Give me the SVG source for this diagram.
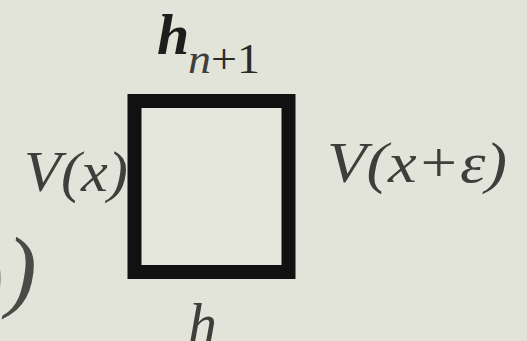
<svg xmlns="http://www.w3.org/2000/svg" width="527" height="341" viewBox="0 0 527 341">
<style>
.b{font-weight:bold}
</style>
<rect x="0" y="0" width="527" height="341" fill="#e3e4d9"/>
<g id="box">
<rect x="134.5" y="101" width="154" height="171" fill="#e6e7dc" stroke="#111" stroke-width="14"/>
</g>
<g font-family="Liberation Serif, DejaVu Serif, serif" font-style="italic" fill="#3e3e3a">
<g id="top-label">
<text class="b" x="157" y="54" font-size="58" fill="#1e1e1c">h</text>
<text x="188" y="73" font-size="42" textLength="72" lengthAdjust="spacingAndGlyphs">n<tspan font-style="normal" fill="#2a2a28">+1</tspan></text>
</g>
<g id="left-label">
<text x="24" y="191" font-size="58" textLength="104" lengthAdjust="spacingAndGlyphs">V(x)</text>
</g>
<g id="right-label">
<text x="327" y="182" font-size="58" textLength="180" lengthAdjust="spacingAndGlyphs">V(x+ε)</text>
</g>
<g id="left-parens">
<text x="-26" y="300" font-size="92" font-style="normal" fill="#7a7a74">)</text>
<text x="6" y="300" font-size="92" fill="#4a4a46">)</text>
</g>
<g id="bottom-label">
<text x="188" y="343" font-size="58">h</text>
</g>
</g>
</svg>
